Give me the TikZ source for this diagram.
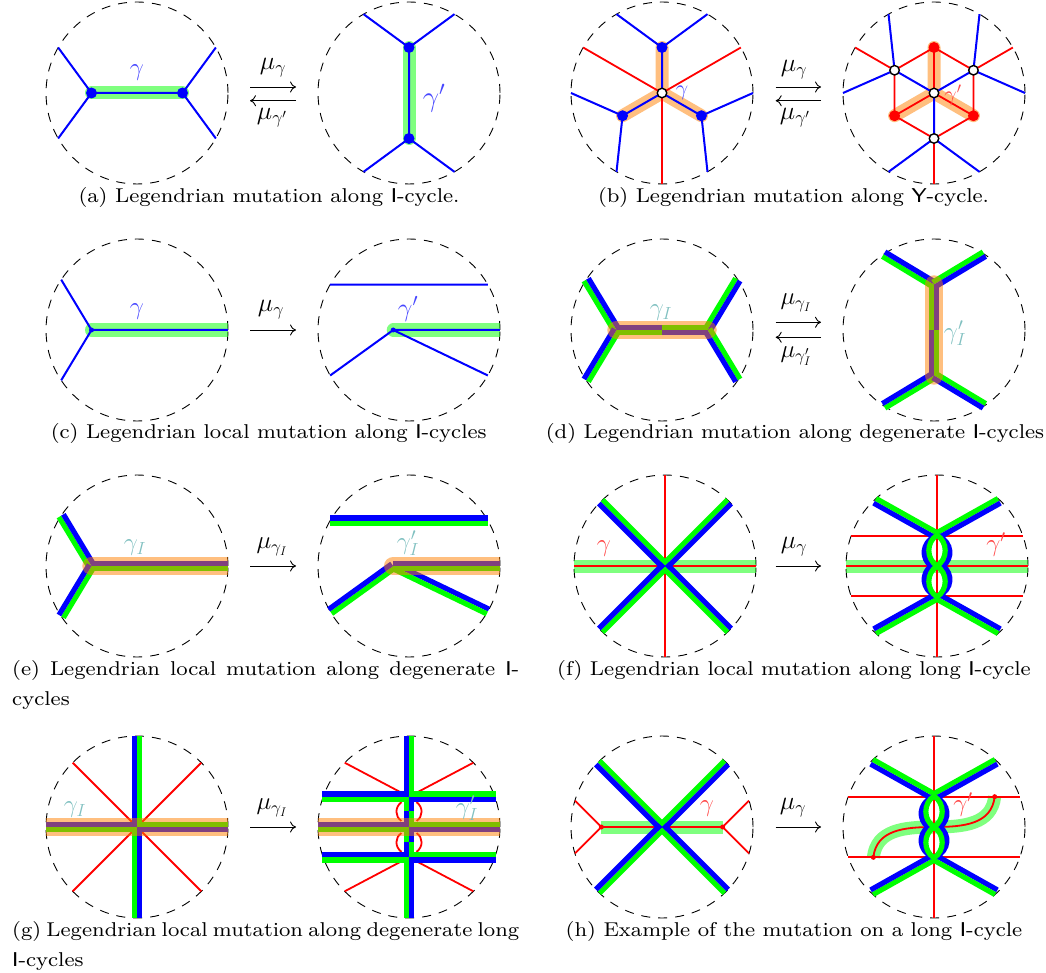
\RequirePackage{fix-cm}
\documentclass[tikz,border=0pt]{standalone}
\usetikzlibrary{calc,arrows.meta}
\definecolor{lblblue}{RGB}{70,70,255}
\definecolor{lblred}{RGB}{255,70,70}
\definecolor{lblteal}{RGB}{128,192,192}
\tikzset{
  x=1pt,y=1pt,
  panel/.style 2 args={shift={(#1pt,-#2pt)},x=30.33pt,y=30.33pt},
  rim/.style={black,line width=.9pt,dash pattern=on 9pt off 8pt},
  thin blue/.style={blue,line width=2pt},
  thin red/.style={red,line width=1.8pt},
  strip/.style={line width=5.2pt},
  greenlit/.style={green,opacity=.5,line width=13pt},
  orangelit/.style={orange,opacity=.5,line width=13pt},
  orangewide/.style={orange,opacity=.5,line width=18.5pt},
  bdot/.style={circle,fill=blue,inner sep=0pt,minimum size=11pt},
  rdot/.style={circle,fill=red,inner sep=0pt,minimum size=11pt},
  wdot/.style={circle,fill=white,draw=black,line width=1.4pt,inner sep=0pt,minimum size=9.5pt},
  smalldot/.style={circle,inner sep=0pt,minimum size=5pt},
  mut/.style={black,line width=.9pt,-{Computer Modern Rightarrow[length=6pt,width=11pt]}},
  captext/.style={inner sep=0pt,text=black,xscale=2.67,yscale=2.5},
  lbl/.style={inner sep=0pt},
}
\newcommand{\capfont}{\fontsize{8}{10.7}\selectfont}
\newcommand{\lf}[1]{\fontsize{#1}{#1}\selectfont}
\newcommand{\rimc}{%
  \draw[rim] (0,0) circle (3);
  \coordinate (O) at (0,0);
  \coordinate (W) at (-3,0); \coordinate (E) at (3,0);
  \coordinate (N) at (0,3);  \coordinate (S) at (0,-3);
  \coordinate (UL) at (-2.6,1.5); \coordinate (UR) at (2.6,1.5);
  \coordinate (LL) at (-2.6,-1.5); \coordinate (LR) at (2.6,-1.5);
  \coordinate (TL) at (-1.5,2.6); \coordinate (TR) at (1.5,2.6);
  \coordinate (BL) at (-1.5,-2.6); \coordinate (BR) at (1.5,-2.6);
  \coordinate (XUL) at (-2.12,2.12); \coordinate (XUR) at (2.12,2.12);
  \coordinate (XLL) at (-2.12,-2.12); \coordinate (XLR) at (2.12,-2.12);
  \coordinate (HUL) at (-2.5,1.66); \coordinate (HUR) at (2.5,1.66);
  \coordinate (HLL) at (-2.5,-1.66); \coordinate (HLR) at (2.5,-1.66);
  \coordinate (VUL) at (-1.66,2.5); \coordinate (VUR) at (1.66,2.5);
  \coordinate (VLL) at (-1.66,-2.5); \coordinate (VLR) at (1.66,-2.5);
}
% one coloured strip on the left / right of the travel from #1 to #2
\newcommand{\lft}[3]{\draw[strip,#3] ($(#1)!2.6pt!90:(#2)$) -- ($(#2)!2.6pt!-90:(#1)$);}
\newcommand{\rgt}[3]{\draw[strip,#3] ($(#1)!2.6pt!-90:(#2)$) -- ($(#2)!2.6pt!90:(#1)$);}
\newcommand{\pair}[4]{\lft{#1}{#2}{#3}\rgt{#1}{#2}{#4}}
% highlight with a round start and a flat end on the rim
\newcommand{\litend}[3]{\begin{scope}\clip (-3.6,-3) rectangle (3,3);\draw[#1,line cap=round] (#2) -- (#3);\end{scope}}
\newcommand{\mutR}[3]{\coordinate (m1) at (#1,-#3); \coordinate (m2) at (#2,-#3); \draw[mut] (m1) -- (m2);}
\newcommand{\mutL}[3]{\coordinate (m1) at (#1,-#3); \coordinate (m2) at (#2,-#3); \draw[mut] (m2) -- (m1);}
% arms and twisted lenses of the long I-cycle
\newcommand{\twist}{%
  \coordinate (A) at (0,1); \coordinate (B) at (0,-1);
  \coordinate (YUL) at (-2.05,2.15); \coordinate (YUR) at (2.05,2.15);
  \coordinate (YLL) at (-2.05,-2.15); \coordinate (YLR) at (2.05,-2.15);
  \pair{A}{YUL}{blue}{green}
  \pair{A}{YUR}{green}{blue}
  \pair{B}{YLL}{green}{blue}
  \pair{B}{YLR}{blue}{green}
  \foreach \s in {-1,1}{
    \draw[strip,blue] (\s*.05,1) .. controls (\s*.52,.75) and (\s*.52,.25) .. (\s*.2,0) .. controls (\s*.52,-.25) and (\s*.52,-.75) .. (\s*.05,-1);
  }
  \foreach \s in {-1,1}{
    \draw[strip,green] (0,1.02) .. controls (\s*.36,.78) and (\s*.36,.24) .. (0,0) .. controls (\s*.36,-.24) and (\s*.36,-.78) .. (0,-1.02);
  }
}
\begin{document}
\begin{tikzpicture}
\useasboundingbox (0,0) rectangle (1046,-973);
%% (a)
\begin{scope}[panel={137}{93}]\rimc
  \coordinate (P) at (-1.5,0); \coordinate (Q) at (1.5,0);
  \draw[greenlit,line cap=round] (P) -- (Q);
  \draw[thin blue] (P) -- (Q) (P) -- (UL) (P) -- (LL) (Q) -- (UR) (Q) -- (LR);
  \node[bdot] (a1) at (P) {}; \node[bdot] (a2) at (Q) {};
\end{scope}
\begin{scope}[panel={409}{93}]\rimc
  \coordinate (P) at (0,1.5); \coordinate (Q) at (0,-1.5);
  \draw[greenlit,line cap=round] (P) -- (Q);
  \draw[thin blue] (P) -- (Q) (P) -- (TL) (P) -- (TR) (Q) -- (BL) (Q) -- (BR);
  \node[bdot] (a3) at (P) {}; \node[bdot] (a4) at (Q) {};
\end{scope}
\node[lbl,text=lblblue] (la1) at (137,-73) {\lf{25}$\gamma$};
\node[lbl,text=lblblue] (la2) at (434,-98) {\lf{29}$\gamma'$};
\mutR{250}{296}{87} \mutL{250}{296}{100.7}
\node[lbl] (ma1) at (273,-68) {\lf{26}$\mu_\gamma$};
\node[lbl] (ma2) at (272,-118) {\lf{26}$\mu_{\gamma'}$};
\node[captext] (capa) at (269,-198) {\capfont (a) Legendrian mutation along \textsf{I}-cycle.};
%% (b)
\begin{scope}[panel={662}{93}]\rimc
  \coordinate (P) at (0,1.5); \coordinate (Q) at (-1.3,-.75); \coordinate (R) at (1.3,-.75);
  \draw[orangelit,line cap=round] (P) -- (O) (Q) -- (O) (R) -- (O);
  \draw[thin red] (O) -- (UL) (O) -- (UR) (O) -- (S);
  \draw[thin blue] (O) -- (P) (O) -- (Q) (O) -- (R) (P) -- (TL) (P) -- (TR) (Q) -- (W) (Q) -- (BL) (R) -- (E) (R) -- (BR);
  \node[bdot] (b1) at (P) {}; \node[bdot] (b2) at (Q) {}; \node[bdot] (b3) at (R) {};
  \node[wdot] (b0) at (O) {};
\end{scope}
\node[lbl,text=lblblue] (lb1) at (682,-93) {\lf{22}$\gamma$};
\begin{scope}[panel={934}{93}]\rimc
  \coordinate (P) at (0,1.5); \coordinate (Q) at (-1.3,-.75); \coordinate (R) at (1.3,-.75);
  \coordinate (U) at (-1.3,.75); \coordinate (V) at (1.3,.75); \coordinate (T) at (0,-1.5);
  \draw[orangelit,line cap=round] (P) -- (O) (Q) -- (O) (R) -- (O);
  \draw[thin red] (O) -- (P) (O) -- (Q) (O) -- (R) (P) -- (U) -- (Q) -- (T) -- (R) -- (V) -- (P) (U) -- (UL) (V) -- (UR) (T) -- (S);
  \draw[thin blue] (O) -- (U) (O) -- (V) (O) -- (T) (U) -- (TL) (U) -- (W) (V) -- (TR) (V) -- (E) (T) -- (BL) (T) -- (BR);
  \node[rdot] (b4) at (P) {}; \node[rdot] (b5) at (Q) {}; \node[rdot] (b6) at (R) {};
  \node[wdot] (b7) at (O) {}; \node[wdot] (b8) at (U) {}; \node[wdot] (b9) at (V) {}; \node[wdot] (b10) at (T) {};
\end{scope}
\node[lbl,text=lblred] (lb2) at (953,-95) {\lf{22}$\gamma'$};
\mutR{775.7}{821}{87} \mutL{775.7}{821}{100.7}
\node[lbl] (mb1) at (794,-70) {\lf{26}$\mu_\gamma$};
\node[lbl] (mb2) at (795,-118) {\lf{26}$\mu_{\gamma'}$};
\node[captext] (capb) at (793.5,-198) {\capfont (b) Legendrian mutation along \textsf{Y}-cycle.};
%% (c)
\begin{scope}[panel={137}{330}]\rimc
  \coordinate (P) at (-1.5,0);
  \litend{greenlit}{P}{E}
  \draw[thin blue] (P) -- (HUL) (P) -- (HLL) (P) -- (E);
  \node[smalldot,fill=blue] (c1) at (P) {};
\end{scope}
\node[lbl,text=lblblue] (lc1) at (137,-312) {\lf{25}$\gamma$};
\begin{scope}[panel={409}{330}]\rimc
  \coordinate (P) at (-.52,0);
  \litend{greenlit}{P}{E}
  \draw[thin blue] (UL) -- (UR) (P) -- (LL) (P) -- (LR) (P) -- (E);
  \node[smalldot,fill=blue] (c2) at (P) {};
\end{scope}
\node[lbl,text=lblblue] (lc2) at (408,-309) {\lf{26}$\gamma'$};
\mutR{250}{296}{330}
\node[lbl] (mc1) at (271,-310) {\lf{26}$\mu_\gamma$};
\node[captext] (capc) at (268.7,-433) {\capfont (c) Legendrian local mutation along \textsf{I}-cycles};
%% (d)
\begin{scope}[panel={662}{330}]\rimc
  \coordinate (P) at (-1.5,0); \coordinate (Q) at (1.5,0);
  \pair{P}{HUL}{green}{blue} \pair{P}{HLL}{green}{blue}
  \pair{Q}{HUR}{green}{blue} \pair{Q}{HLR}{green}{blue}
  \pair{P}{O}{blue}{green} \pair{O}{Q}{green}{blue}
  \draw[orangewide,line cap=round] (P) -- (Q);
\end{scope}
\node[lbl,text=lblteal] (ld1) at (661,-313) {\lf{25}$\gamma_I$};
\begin{scope}[panel={934}{330}]\rimc
  \coordinate (P) at (0,1.5); \coordinate (Q) at (0,-1.5);
  \pair{P}{VUL}{green}{blue} \pair{P}{VUR}{green}{blue}
  \pair{Q}{VLL}{green}{blue} \pair{Q}{VLR}{green}{blue}
  \pair{O}{P}{green}{blue} \pair{Q}{O}{blue}{green}
  \draw[orangewide,line cap=round] (P) -- (Q);
\end{scope}
\node[lbl,text=lblteal] (ld2) at (955,-333) {\lf{25}$\gamma'_I$};
\mutR{775.7}{821}{322.3} \mutL{775.7}{821}{337.3}
\node[lbl] (md1) at (796,-303) {\lf{25}$\mu_{\gamma_I}$};
\node[lbl] (md2) at (796,-356) {\lf{25}$\mu_{\gamma'_I}$};
\node[captext] (capd) at (795,-433) {\capfont (d) Legendrian mutation along degenerate \textsf{I}-cycles};
%% (e)
\begin{scope}[panel={137}{566}]\rimc
  \coordinate (P) at (-1.5,0);
  \pair{P}{HUL}{green}{blue} \pair{P}{HLL}{green}{blue}
  \pair{P}{E}{blue}{green}
  \litend{orangewide}{P}{E}
\end{scope}
\node[lbl,text=lblteal] (le1) at (135,-548) {\lf{25}$\gamma_I$};
\begin{scope}[panel={409}{566}]\rimc
  \coordinate (P) at (-.52,0);
  \pair{UL}{UR}{blue}{green}
  \pair{P}{LL}{green}{blue} \pair{P}{LR}{blue}{green}
  \pair{P}{E}{blue}{green}
  \litend{orangewide}{P}{E}
\end{scope}
\node[lbl,text=lblteal] (le2) at (408,-543) {\lf{25}$\gamma'_I$};
\mutR{250}{296}{566}
\node[lbl] (me1) at (272,-547) {\lf{25}$\mu_{\gamma_I}$};
\node[captext,text width=189.9pt,align=justify,anchor=north west] (cape) at (11.7,-660) {\capfont (e) Legendrian local mutation along degenerate \textsf{I}-\linebreak cycles};
%% (f)
\begin{scope}[panel={665}{566}]\rimc
  \draw[greenlit] (W) -- (E);
  \draw[thin red] (W) -- (E) (N) -- (S);
  \rgt{O}{XUL}{green} \lft{O}{XUR}{green} \lft{O}{XLL}{green} \rgt{O}{XLR}{green}
  \lft{O}{XUL}{blue} \rgt{O}{XUR}{blue} \rgt{O}{XLL}{blue} \lft{O}{XLR}{blue}
\end{scope}
\node[lbl,text=lblred] (lf1) at (604,-549) {\lf{25}$\gamma$};
\begin{scope}[panel={937}{566}]\rimc
  \draw[greenlit] (W) -- (E);
  \draw[thin red] (W) -- (E) (N) -- (S) (-2.83,1) -- (2.83,1) (-2.83,-1) -- (2.83,-1);
  \twist
\end{scope}
\node[lbl,text=lblred] (lf2) at (996,-545) {\lf{25}$\gamma'$};
\mutR{775.7}{821}{566}
\node[lbl] (mf1) at (794,-547) {\lf{26}$\mu_\gamma$};
\node[captext] (capf) at (794,-670) {\capfont (f) Legendrian local mutation along long \textsf{I}-cycle};
%% (g)
\begin{scope}[panel={137}{827}]\rimc
  \draw[thin red] (XUL) -- (XLR) (XUR) -- (XLL);
  \pair{O}{N}{blue}{green} \pair{O}{S}{blue}{green}
  \pair{O}{W}{green}{blue} \pair{O}{E}{green}{blue}
  \draw[orangewide] (W) -- (E);
\end{scope}
\node[lbl,text=lblteal] (lg1) at (75,-810) {\lf{25}$\gamma_I$};
\begin{scope}[panel={409}{827}]\rimc
  \coordinate (A) at (0,1); \coordinate (B) at (0,-1);
  \draw[thin red] (A) -- (XUL) (A) -- (XUR) (B) -- (XLL) (B) -- (XLR);
  \foreach \s in {-1,1}{
    \draw[thin red] (\s*.25,.82) .. controls (\s*.47,.65) and (\s*.47,.35) .. (\s*.25,.2);
    \draw[thin red] (\s*.25,-.82) .. controls (\s*.47,-.65) and (\s*.47,-.35) .. (\s*.25,-.2);
  }
  \pair{A}{N}{blue}{green} \pair{B}{S}{blue}{green}
  \draw[strip,green] (-.086,1) -- (-.086,.52); \draw[strip,blue] (.086,1) -- (.086,.52);
  \draw[strip,blue] (-.086,.52) -- (-.086,0); \draw[strip,green] (.086,.52) -- (.086,0);
  \draw[strip,green] (-.086,0) -- (-.086,-.5); \draw[strip,blue] (.086,0) -- (.086,-.5);
  \draw[strip,blue] (-.086,-.5) -- (-.086,-1); \draw[strip,green] (.086,-.5) -- (.086,-1);
  \coordinate (AL) at (-2.86,1); \coordinate (AR) at (2.86,1);
  \coordinate (BL2) at (-2.86,-1); \coordinate (BR2) at (2.86,-1);
  \pair{A}{AL}{green}{blue} \pair{A}{AR}{green}{blue}
  \pair{B}{BL2}{green}{blue} \pair{B}{BR2}{green}{blue}
  \pair{O}{W}{green}{blue} \pair{O}{E}{green}{blue}
  \draw[orangewide] (W) -- (E);
\end{scope}
\node[lbl,text=lblteal] (lg2) at (467,-808) {\lf{25}$\gamma'_I$};
\mutR{250}{296}{827}
\node[lbl] (mg1) at (272,-808) {\lf{25}$\mu_{\gamma_I}$};
\node[captext,text width=189.9pt,align=justify,anchor=north west] (capg) at (11.7,-921) {\capfont (g) Legendrian local mutation along degenerate long\linebreak \textsf{I}-cycles};
%% (h)
\begin{scope}[panel={662}{827}]\rimc
  \coordinate (P) at (-2,0); \coordinate (Q) at (2,0);
  \coordinate (P1) at (-2.87,.87); \coordinate (P2) at (-2.87,-.87);
  \coordinate (Q1) at (2.87,.87); \coordinate (Q2) at (2.87,-.87);
  \draw[greenlit] (P) -- (Q);
  \draw[thin red] (P) -- (Q) (P) -- (P1) (P) -- (P2) (Q) -- (Q1) (Q) -- (Q2);
  \node[smalldot,fill=red] (h1) at (P) {}; \node[smalldot,fill=red] (h2) at (Q) {};
  \rgt{O}{XUL}{green} \lft{O}{XUR}{green} \lft{O}{XLL}{green} \rgt{O}{XLR}{green}
  \lft{O}{XUL}{blue} \rgt{O}{XUR}{blue} \rgt{O}{XLL}{blue} \lft{O}{XLR}{blue}
\end{scope}
\node[lbl,text=lblred] (lh1) at (707,-809) {\lf{25}$\gamma$};
\begin{scope}[panel={934}{827}]\rimc
  \coordinate (P) at (-2,-1); \coordinate (Q) at (2,1);
  \draw[greenlit] (P) .. controls (-1.9,-.1) and (-1,0) .. (O) .. controls (1,0) and (1.9,.1) .. (Q);
  \draw[thin red] (N) -- (S) (-2.83,1) -- (2.83,1) (-2.83,-1) -- (2.83,-1);
  \draw[thin red] (P) .. controls (-1.9,-.1) and (-1,0) .. (O) .. controls (1,0) and (1.9,.1) .. (Q);
  \node[smalldot,fill=red] (h3) at (P) {}; \node[smalldot,fill=red] (h4) at (Q) {};
  \twist
\end{scope}
\node[lbl,text=lblred] (lh2) at (963,-805) {\lf{25}$\gamma'$};
\mutR{775.7}{821}{827}
\node[lbl] (mh1) at (793,-808) {\lf{26}$\mu_\gamma$};
\node[captext] (caph) at (794,-931) {\capfont (h) Example of the mutation on a long \textsf{I}-cycle};
\end{tikzpicture}
\end{document}
